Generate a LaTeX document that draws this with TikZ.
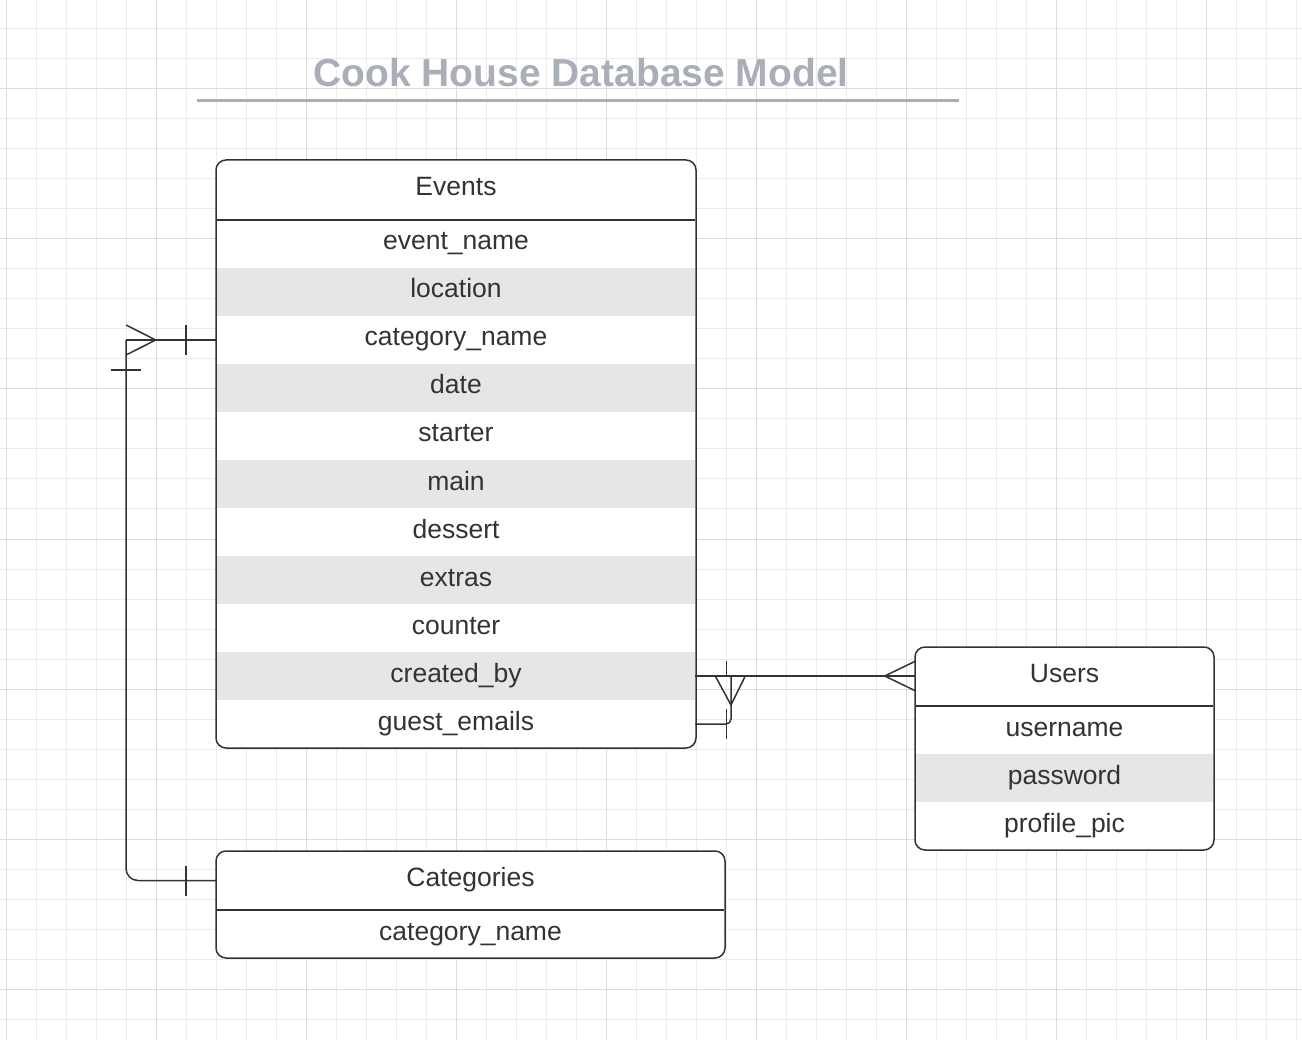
\documentclass[tikz,border=0pt]{standalone}
\usepackage{fontspec}
\setmainfont{Liberation Sans}
\usepackage{xcolor}
\usetikzlibrary{positioning,calc}
\definecolor{ink}{HTML}{333333}
\definecolor{rowgray}{HTML}{E6E6E6}
\definecolor{titlegray}{HTML}{A9AEB8}
\definecolor{gridminor}{HTML}{EBEBEB}
\definecolor{gridmajor}{HTML}{DCDCDC}

\begin{document}
\begin{tikzpicture}[x=1pt,y=-1pt,
		tbl/.style={draw=ink,line width=1.5pt,fill=white,rounded corners=10pt,anchor=north west,inner sep=0pt,outer sep=0pt},
		cell/.style={inner sep=0pt,outer sep=0pt,text=ink,text height=19pt,text depth=7pt,font=\fontsize{26.5}{30}\selectfont},
		head/.style={cell,minimum height=59pt,anchor=north},
		row/.style={cell,minimum height=48pt},
		shade/.style={row,fill=rowgray},
		evcell/.style={minimum width=478.5pt},
		uscell/.style={minimum width=297.5pt},
		cacell/.style={minimum width=507.5pt},
		rel/.style={draw=ink,line width=1.5pt},
		sep/.style={draw=ink,line width=1.5pt}
		]
		\useasboundingbox (0,0) rectangle (1302,1040);
		% background grid
		\foreach \gx in {6,36,...,1296} \draw[gridminor,line width=1pt] (\gx,0) -- (\gx,1040);
		\foreach \gy in {-1,29,...,1019} \draw[gridminor,line width=1pt] (0,\gy) -- (1302,\gy);
		\foreach \gx in {6,156,...,1206} \draw[gridmajor,line width=1pt] (\gx,0) -- (\gx,1040);
		\foreach \gy in {89,239,...,989} \draw[gridmajor,line width=1pt] (0,\gy) -- (1302,\gy);

		% title
		\node[anchor=base,inner sep=0pt,text=titlegray,font=\fontsize{39}{44}\selectfont\bfseries] (title) at (581,87) {Cook House Database Model};
		\coordinate (ulstart) at (197,101);
		\coordinate (ulend) at (959,101);
		\draw[titlegray,line width=3pt] (ulstart) -- (ulend);

		% Events table
		\node[tbl,minimum width=480pt,minimum height=588pt] (events) at (216,160) {};
		\node[head,evcell,minimum height=60pt] (evhead) at (events.north) {Events};
		\draw[sep] (evhead.south west) -- (evhead.south east);
		\node[row,evcell,below=0pt of evhead] (evname) {event\_name};
		\node[shade,evcell,below=0pt of evname] (evloc) {location};
		\node[row,evcell,below=0pt of evloc] (evcat) {category\_name};
		\node[shade,evcell,below=0pt of evcat] (evdate) {date};
		\node[row,evcell,below=0pt of evdate] (evstart) {starter};
		\node[shade,evcell,below=0pt of evstart] (evmain) {main};
		\node[row,evcell,below=0pt of evmain] (evdess) {dessert};
		\node[shade,evcell,below=0pt of evdess] (evextra) {extras};
		\node[row,evcell,below=0pt of evextra] (evcount) {counter};
		\node[shade,evcell,below=0pt of evcount] (evby) {created\_by};
		\node[row,evcell,below=0pt of evby] (evguest) {guest\_emails};

		% Users table
		\node[tbl,minimum width=299pt,minimum height=203pt] (users) at (915,647) {};
		\node[head,uscell] (ushead) at (users.north) {Users};
		\draw[sep] (ushead.south west) -- (ushead.south east);
		\node[row,uscell,below=0pt of ushead] (usname) {username};
		\node[shade,uscell,below=0pt of usname] (uspass) {password};
		\node[row,uscell,below=0pt of uspass] (uspic) {profile\_pic};

		% Categories table
		\node[tbl,minimum width=509pt,minimum height=107pt] (cats) at (216,851) {};
		\node[head,cacell] (cahead) at (cats.north) {Categories};
		\draw[sep] (cahead.south west) -- (cahead.south east);
		\node[row,cacell,below=0pt of cahead] (caname) {category\_name};

		% Events -- Categories
		\coordinate (lrail) at (126,0);
		\draw[rel] (evcat.west) -- (evcat.west -| lrail);
		\draw[rel,rounded corners=12pt] (evcat.west -| lrail) -- (cahead.west -| lrail) -- (cahead.west);
		\draw[rel] ($(evcat.west)+(-31,-15)$) -- ++(0,30);
		\draw[rel] ($(evcat.west -| lrail)+(0,-15)$) -- ($(evcat.west)+(-61,0)$) -- ($(evcat.west -| lrail)+(0,15)$);
		\draw[rel] ($(evcat.west -| lrail)+(-15,30)$) -- ++(30,0);
		\draw[rel] ($(cahead.west)+(-31,-15)$) -- ++(0,30);

		% Events -- Users
		\coordinate (rrail) at (731,0);
		\draw[rel] (evby.east) -- (evby.east -| ushead.west);
		\draw[rel] ($(evby.east -| ushead.west)+(0,-15)$) -- ($(evby.east -| ushead.west)+(-31,0)$) -- ($(evby.east -| ushead.west)+(0,15)$);
		\draw[rel] ($(evby.east)+(31,-15)$) -- ++(0,15);
		\draw[rel] ($(evby.east)+(20,0)$) -- ($(evby.east -| rrail)+(0,29)$) -- ($(evby.east)+(50,0)$);
		\draw[rel,rounded corners=5pt] (evguest.east) -- (evguest.east -| rrail) -- (evby.east -| rrail);
		\draw[rel] ($(evguest.east)+(31,-15)$) -- ++(0,30);
	\end{tikzpicture}
\end{document}
